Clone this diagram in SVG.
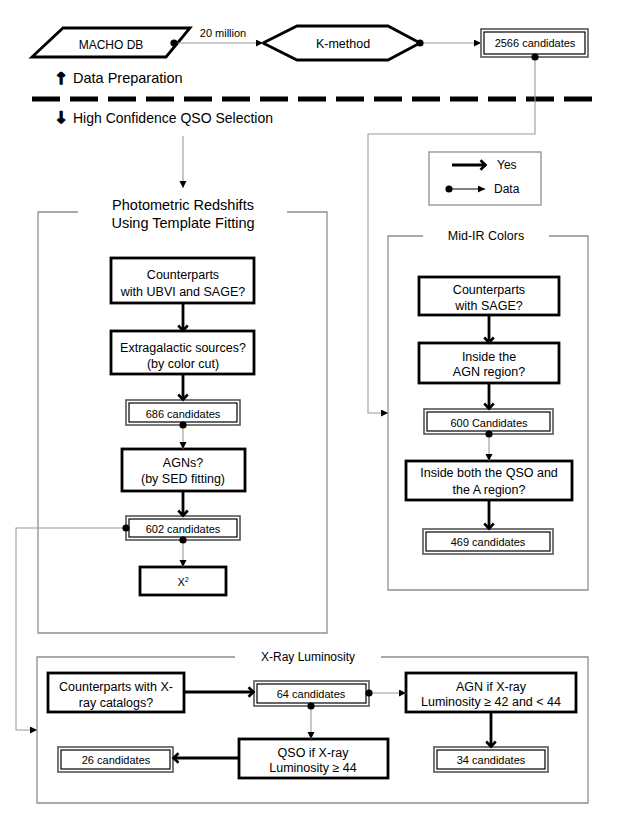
<svg xmlns="http://www.w3.org/2000/svg" width="623" height="830" viewBox="0 0 623 830">
<defs>
<marker id="yes" markerUnits="userSpaceOnUse" markerWidth="14" markerHeight="14" refX="7" refY="6" orient="auto">
<path d="M1.5,1.2 L6.5,6 L1.5,10.8" fill="none" stroke="#000" stroke-width="2.6" stroke-linejoin="miter"/>
</marker>
<marker id="tri" markerUnits="userSpaceOnUse" markerWidth="8" markerHeight="8" refX="7" refY="3.5" orient="auto">
<path d="M0,0 L7,3.5 L0,7 z" fill="#000"/>
</marker>
<marker id="dot" markerUnits="userSpaceOnUse" markerWidth="9" markerHeight="9" refX="4.5" refY="4.5" orient="auto">
<circle cx="4.5" cy="4.5" r="3.6" fill="#000"/>
</marker>
</defs>
<style>
text{font-family:"Liberation Sans",Arial,sans-serif;fill:#000;}
.bt{font-size:12.5px;text-anchor:middle;}
.ct{font-size:11px;text-anchor:middle;}
.ttl{font-size:14.5px;text-anchor:middle;}
.arr{font-family:"DejaVu Sans",sans-serif;font-weight:bold;font-size:16px;text-anchor:middle;stroke:#000;stroke-width:1.3;}
.thick{fill:#fff;stroke:#000;stroke-width:2.8;}
.dout{fill:#fff;stroke:#555;stroke-width:1.6;}
.din{fill:none;stroke:#000;stroke-width:1.2;}
.frame{fill:none;stroke:#8f8f8f;stroke-width:1.3;}
.data{fill:none;stroke:#9a9a9a;stroke-width:1.1;marker-start:url(#dot);marker-end:url(#tri);}
.plain{fill:none;stroke:#9a9a9a;stroke-width:1.1;marker-end:url(#tri);}
.yesc{fill:none;stroke:#000;stroke-width:2.8;marker-end:url(#yes);}
</style>
<rect width="623" height="830" fill="#fff"/>

<!-- section labels -->
<g id="separator">
<line x1="32" y1="99" x2="593" y2="99" stroke="#000" stroke-width="5" stroke-dasharray="28 10"/>
<text class="arr" x="61" y="84">↑</text>
<text x="73" y="83" style="font-size:14.5px">Data Preparation</text>
<text class="arr" x="61" y="123">↓</text>
<text x="73" y="123" style="font-size:14px">High Confidence QSO Selection</text>
</g>

<!-- frames -->
<g id="panel-photometric">
<path class="frame" d="M78,212 H38 V633 H327 V212 H287"/>
<text class="ttl" x="183" y="210">Photometric Redshifts</text>
<text class="ttl" x="183" y="228">Using Template Fitting</text>
</g>
<g id="panel-midir">
<path class="frame" d="M423,236 H388 V590 H588 V236 H549"/>
<text class="bt" x="486" y="240">Mid-IR Colors</text>
</g>
<g id="panel-xray">
<path class="frame" d="M235,657 H37 V803 H588 V657 H381"/>
<text class="bt" x="308" y="661" style="font-size:12px">X-Ray Luminosity</text>
</g>

<g id="legend">
<rect x="429" y="152" width="112" height="53" class="frame"/>
<line x1="452" y1="165" x2="486" y2="165" class="yesc"/>
<text x="497" y="169" style="font-size:12px">Yes</text>
<line x1="449" y1="189" x2="485" y2="189" stroke="#000" stroke-width="1" marker-start="url(#dot)" marker-end="url(#tri)"/>
<text x="494" y="193" style="font-size:12px">Data</text>
</g>

<!-- top nodes -->
<g id="macho">
<polygon points="32,57 63,28 190,28 166,57" class="thick"/>
<text class="bt" x="111" y="49" style="font-size:12px">MACHO DB</text>
</g>
<g id="kmethod">
<polygon points="263,43 297,26 388,26 420,43 388,60 297,60" class="thick"/>
<text class="bt" x="343" y="48">K-method</text>
</g>
<g id="c2566">
<rect x="481" y="29" width="107" height="28" class="dout"/>
<rect x="484" y="32" width="101" height="22" class="din"/>
<text class="ct" x="535" y="47">2566 candidates</text>
</g>

<!-- left panel nodes -->
<g id="ubvi">
<rect x="111" y="258" width="143" height="45" class="thick"/>
<text class="bt" x="183" y="279">Counterparts</text>
<text class="bt" x="183" y="296">with UBVI and SAGE?</text>
</g>
<g id="extragal">
<rect x="111" y="331" width="143" height="43" class="thick"/>
<text class="bt" x="183" y="352">Extragalactic sources?</text>
<text class="bt" x="183" y="368">(by color cut)</text>
</g>
<g id="c686">
<rect x="126" y="400" width="114" height="25" class="dout"/>
<rect x="129" y="403" width="108" height="19" class="din"/>
<text class="ct" x="183" y="418">686 candidates</text>
</g>
<g id="agns">
<rect x="122" y="449" width="123" height="42" class="thick"/>
<text class="bt" x="183" y="467">AGNs?</text>
<text class="bt" x="183" y="483">(by SED fitting)</text>
</g>
<g id="c602">
<rect x="126" y="516" width="114" height="24" class="dout"/>
<rect x="129" y="519" width="108" height="18" class="din"/>
<text class="ct" x="183" y="533">602 candidates</text>
</g>
<g id="chi2">
<rect x="140" y="567" width="86" height="28" class="thick"/>
<text class="ct" x="183" y="586">X<tspan dy="-4" style="font-size:7px">2</tspan></text>
</g>

<!-- right panel nodes -->
<g id="sage">
<rect x="419" y="277" width="140" height="38" class="thick"/>
<text class="bt" x="489" y="294">Counterparts</text>
<text class="bt" x="489" y="310">with SAGE?</text>
</g>
<g id="agnregion">
<rect x="419" y="343" width="140" height="40" class="thick"/>
<text class="bt" x="489" y="361">Inside the</text>
<text class="bt" x="489" y="376">AGN region?</text>
</g>
<g id="c600">
<rect x="424" y="409" width="129" height="25" class="dout"/>
<rect x="427" y="412" width="123" height="19" class="din"/>
<text class="ct" x="489" y="427">600 Candidates</text>
</g>
<g id="qsoA">
<rect x="406" y="461" width="166" height="39" class="thick"/>
<text class="bt" x="489" y="477">Inside both the QSO and</text>
<text class="bt" x="489" y="494">the A region?</text>
</g>
<g id="c469">
<rect x="423" y="529" width="130" height="25" class="dout"/>
<rect x="426" y="532" width="124" height="19" class="din"/>
<text class="ct" x="488" y="546">469 candidates</text>
</g>

<!-- x-ray nodes -->
<g id="xcat">
<rect x="48" y="673" width="136" height="39" class="thick"/>
<text class="bt" x="116" y="691">Counterparts with X-</text>
<text class="bt" x="116" y="707">ray catalogs?</text>
</g>
<g id="c64">
<rect x="254" y="681" width="115" height="25" class="dout"/>
<rect x="257" y="684" width="109" height="19" class="din"/>
<text class="ct" x="311" y="698">64 candidates</text>
</g>
<g id="agnx">
<rect x="406" y="673" width="170" height="39" class="thick"/>
<text class="bt" x="491" y="691">AGN if X-ray</text>
<text class="bt" x="491" y="706">Luminosity ≥ 42 and &lt; 44</text>
</g>
<g id="c34">
<rect x="434" y="747" width="114" height="25" class="dout"/>
<rect x="437" y="750" width="108" height="19" class="din"/>
<text class="ct" x="491" y="764">34 candidates</text>
</g>
<g id="qsox">
<rect x="239" y="739" width="149" height="39" class="thick"/>
<text class="bt" x="313" y="757">QSO if X-ray</text>
<text class="bt" x="313" y="772">Luminosity ≥ 44</text>
</g>
<g id="c26">
<rect x="58" y="747" width="115" height="25" class="dout"/>
<rect x="61" y="750" width="109" height="19" class="din"/>
<text class="ct" x="116" y="764">26 candidates</text>
</g>

<!-- connectors -->
<g id="connectors">
<line class="data" x1="174" y1="43" x2="263" y2="43"/>
<text x="223" y="37" style="font-size:11px;text-anchor:middle">20 million</text>
<line class="data" x1="420" y1="43" x2="481" y2="43"/>
<polyline class="data" points="535,57 535,134 368,134 368,413 388,413"/>
<line class="plain" x1="183" y1="136" x2="183" y2="188"/>

<line class="yesc" x1="183" y1="303" x2="183" y2="331"/>
<line class="yesc" x1="183" y1="374" x2="183" y2="400"/>
<line class="data" x1="183" y1="425" x2="183" y2="449"/>
<line class="yesc" x1="183" y1="491" x2="183" y2="516"/>
<line class="data" x1="183" y1="540" x2="183" y2="567"/>
<polyline class="data" points="126,528 16,528 16,730 37,730"/>

<line class="yesc" x1="489" y1="315" x2="489" y2="343"/>
<line class="yesc" x1="489" y1="383" x2="489" y2="409"/>
<line class="data" x1="489" y1="434" x2="489" y2="461"/>
<line class="yesc" x1="489" y1="500" x2="489" y2="529"/>

<line class="yesc" x1="184" y1="692" x2="254" y2="692"/>
<line class="data" x1="369" y1="693" x2="406" y2="693"/>
<line class="data" x1="311" y1="706" x2="311" y2="739"/>
<line class="yesc" x1="491" y1="712" x2="491" y2="747"/>
<line class="yesc" x1="239" y1="758" x2="173" y2="758"/>
</g>
</svg>
